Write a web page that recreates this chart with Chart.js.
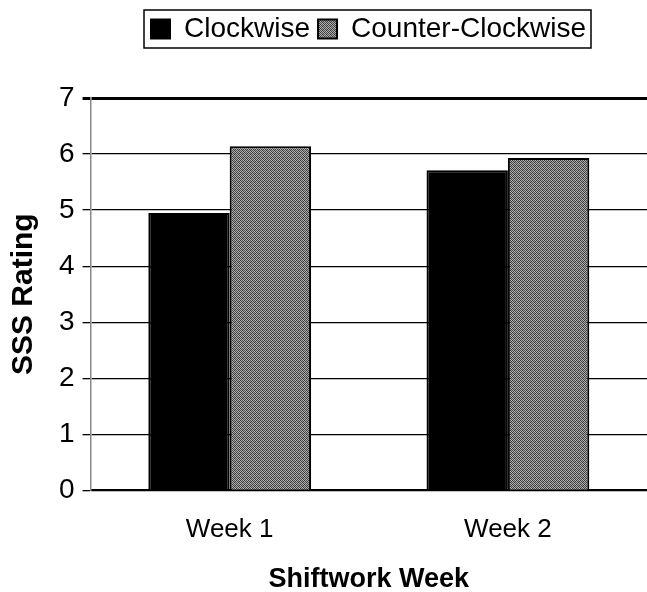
<!DOCTYPE html>
<html>
<head>
<meta charset="utf-8">
<script src="https://cdn.jsdelivr.net/npm/chart.js@4"></script>
<style>
  body { margin: 0; background: #fff; }
  #wrap { width: 647px; height: 592px; }
</style>
</head>
<body>
<div id="wrap"><canvas id="chart"></canvas></div>
<script>
const weeks = ['Week 1', 'Week 2'];
const clockwise = [4.95, 5.71];
const counterClockwise = [6.14, 5.93];
const yMin = 0;
const yMax = 7;

const FONT = "'Liberation Sans', Arial, sans-serif";
const LEGEND_SHIFT = 42;

// speckled grey fill like the scanned print
function makePattern() {
  const tile = document.createElement('canvas');
  tile.width = 4;
  tile.height = 4;
  const c = tile.getContext('2d');
  const shades = [
    '#3a3a3a', '#a8a8a8', '#505050', '#b4b4b4',
    '#b0b0b0', '#444444', '#9a9a9a', '#3c3c3c',
    '#5a5a5a', '#acacac', '#343434', '#a0a0a0',
    '#a4a4a4', '#4a4a4a', '#b8b8b8', '#424242'
  ];
  shades.forEach((s, i) => {
    c.fillStyle = s;
    c.fillRect(i % 4, Math.floor(i / 4), 1, 1);
  });
  return c.createPattern(tile, 'repeat');
}

const legendSpace = {
  id: 'legendSpace',
  beforeInit(chart) {
    const fit = chart.legend.fit;
    chart.legend.fit = function () {
      fit.bind(chart.legend)();
      this.height += 45;
    };
  },
  beforeDraw(chart) {
    // the legend sits a bit right of centre in the original
    const lg = chart.legend;
    if (!lg._shifted) {
      lg.left += LEGEND_SHIFT;
      lg.right += LEGEND_SHIFT;
      lg._shifted = true;
    }
  }
};

const legendBorder = {
  id: 'legendBorder',
  afterDraw(chart) {
    const lg = chart.legend;
    if (!lg.lineWidths || !lg.lineWidths.length) return;
    const pad = lg.options.labels.padding;
    const rowW = lg.lineWidths[0];
    const rowLeft = (lg.left + pad + lg.right - rowW) / 2;
    const rowTop = lg.top + pad;
    const itemH = lg.options.labels.font.size;
    const ctx = chart.ctx;
    ctx.save();
    ctx.strokeStyle = '#000';
    ctx.lineWidth = 1.5;
    ctx.strokeRect(rowLeft - 7, rowTop - 5, rowW + 4, itemH + 10);
    ctx.restore();
  }
};

new Chart(document.getElementById('chart'), {
  type: 'bar',
  data: {
    labels: weeks,
    datasets: [
      {
        label: 'Clockwise',
        data: clockwise,
        backgroundColor: '#000',
        borderColor: '#000',
        borderWidth: 2
      },
      {
        label: 'Counter-Clockwise',
        data: counterClockwise,
        backgroundColor: makePattern(),
        borderColor: '#000',
        borderWidth: 2
      }
    ]
  },
  options: {
    responsive: true,
    maintainAspectRatio: false,
    animation: false,
    layout: { padding: { top: 7, left: 6, right: 0, bottom: 0 } },
    datasets: {
      bar: { barPercentage: 1, categoryPercentage: 0.585 }
    },
    plugins: {
      tooltip: { enabled: false },
      legend: {
        position: 'top',
        align: 'center',
        labels: {
          color: '#000',
          font: { family: FONT, size: 28 },
          boxWidth: 19,
          boxHeight: 19,
          padding: 8
        }
      }
    },
    scales: {
      x: {
        grid: { display: false, drawTicks: false },
        border: { color: '#000', width: 2 },
        ticks: {
          color: '#000',
          font: { family: FONT, size: 26 },
          padding: 24
        },
        title: {
          display: true,
          text: 'Shiftwork Week',
          color: '#000',
          font: { family: FONT, size: 27, weight: 'bold' },
          padding: { top: -6, bottom: -4 }
        }
      },
      y: {
        min: yMin,
        max: yMax,
        ticks: {
          stepSize: 1,
          color: '#000',
          font: { family: FONT, size: 28 },
          padding: 8
        },
        grid: {
          color: '#000',
          lineWidth: ctx => (ctx.tick && ctx.tick.value === yMax ? 3 : 1.3),
          tickLength: 8
        },
        border: { color: '#888', width: 1.5 },
        title: {
          display: true,
          text: 'SSS Rating',
          color: '#000',
          font: { family: FONT, size: 30, weight: 'bold' },
          padding: { top: 0, bottom: 9 }
        }
      }
    }
  },
  plugins: [legendSpace, legendBorder]
});
</script>
</body>
</html>
